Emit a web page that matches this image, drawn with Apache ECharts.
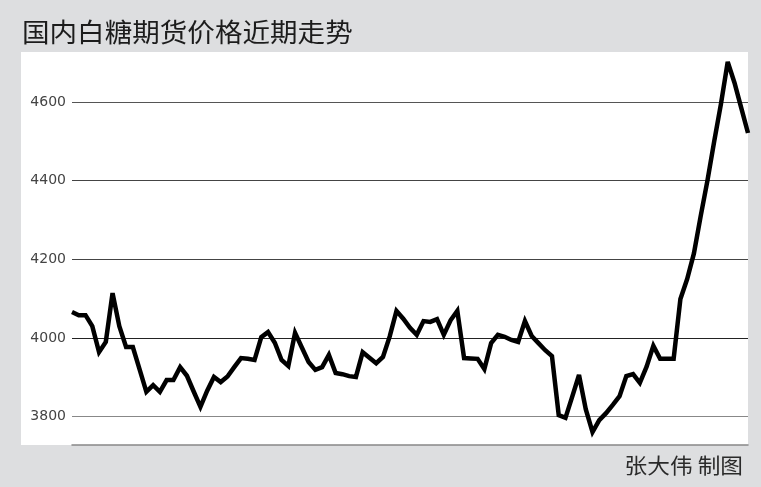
<!DOCTYPE html>
<html><head><meta charset="utf-8">
<script src="https://cdn.jsdelivr.net/npm/echarts@6/dist/echarts.min.js"></script>
<style>html,body{margin:0;padding:0;background:#dddee0}#c{width:761px;height:487px}</style>
</head><body><div id="c"></div>
<script>
const titleText = '国内白糖期货价格近期走势';
const creditText = '张大伟 制图';
const yTicks = [3800, 4000, 4200, 4400, 4600];
const prices = [
  4066, 4058, 4058, 4030, 3964, 3990, 4114, 4030, 3977, 3977,
  3920, 3863, 3880, 3863, 3893, 3893, 3926, 3904, 3864, 3825,
  3866, 3901, 3888, 3902, 3926, 3949, 3947, 3944, 4002, 4015,
  3988, 3944, 3929, 4013, 3976, 3939, 3919, 3926, 3957, 3911,
  3908, 3903, 3901, 3964, 3950, 3936, 3952, 4004, 4069, 4049,
  4026, 4008, 4043, 4041, 4048, 4008, 4045, 4069, 3949, 3948,
  3947, 3921, 3987, 4008, 4003, 3995, 3990, 4043, 4005, 3987,
  3969, 3954, 3804, 3797, 3851, 3906, 3819, 3761, 3791, 3809,
  3830, 3852, 3903, 3908, 3886, 3927, 3980, 3947, 3947, 3947,
  4099, 4150, 4215, 4310, 4400, 4500, 4595, 4702, 4649, 4585,
  4521
];
const days = prices.map((_, i) => '第' + (i + 1) + '日');

const chart = echarts.init(document.getElementById('c'), null, {renderer: 'canvas'});
chart.setOption({
  backgroundColor: '#dddee0',
  animation: false,
  graphic: [
    {type: 'rect', z: -10, silent: true,
     shape: {x: 21, y: 52, width: 727, height: 393},
     style: {fill: '#ffffff'}},
    {type: 'text', x: 22, y: 19, scaleX: 1.06,
     style: {text: titleText, font: '26px "Noto Sans CJK SC"', fill: '#1c1c1c'}},
    {type: 'text', x: 743, y: 455, scaleX: 1.08,
     style: {text: creditText, font: '21px "Noto Sans CJK SC"', fill: '#2a2a2a', align: 'right'}}
  ],
  grid: {left: 72, right: 13, top: 52, bottom: 42},
  xAxis: {
    type: 'category', data: days, boundaryGap: false,
    axisLine: {lineStyle: {color: '#888', width: 1.5}},
    axisTick: {show: false}, axisLabel: {show: false}, splitLine: {show: false}
  },
  yAxis: {
    type: 'value', min: 3728, max: 4727,
    axisLine: {show: false},
    axisTick: {show: false, customValues: yTicks},
    axisLabel: {customValues: yTicks, margin: 6, color: '#444',
      fontFamily: 'DejaVu Sans', fontSize: 14,
      formatter: v => String(v)},
    splitLine: {show: true, lineStyle: {color: ['#888', '#222', '#444', '#444', '#555'], width: 1}}
  },
  series: [{
    type: 'line', data: prices, symbol: 'none', showSymbol: false,
    lineStyle: {color: '#000', width: 4.5, join: 'miter', miterLimit: 4}
  }]
});
</script>
</body></html>
